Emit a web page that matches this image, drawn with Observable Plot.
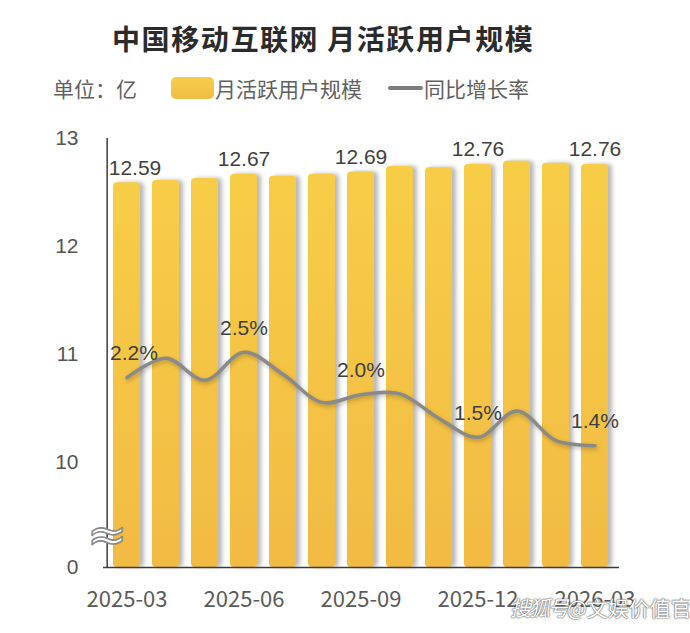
<!DOCTYPE html>
<html>
<head>
<meta charset="utf-8">
<script src="https://cdn.jsdelivr.net/npm/d3@7"></script>
<script src="https://cdn.jsdelivr.net/npm/@observablehq/plot@0.6"></script>
<style>
  body { margin: 0; background: #fff; }
  #wrap { position: relative; width: 690px; height: 633px; overflow: hidden; font-family: "Noto Sans CJK SC", sans-serif; }
  .abs { position: absolute; white-space: nowrap; }
  #title { left: 112px; top: 22px; font-size: 28px; line-height: 32px; font-weight: bold; color: #2b2b2b; letter-spacing: 1.6px; }
  .leg { top: 73px; font-size: 21px; line-height: 30px; color: #5f5f5f; }
  #swatchBar { left: 171px; top: 77px; width: 43px; height: 22px; border-radius: 5px; background: linear-gradient(#f7cf4a, #f1bb44); }
  #swatchLine { left: 388px; top: 86px; width: 35px; height: 4px; background: #7d7d7d; border-radius: 2px; }
  #chart { left: 0; top: 110px; }
  #wm { left: 510px; top: 592px; font-size: 21px; color: #fff; text-shadow: 0 0 2px #555, 0 0 1px #333; }
  #wm i { font-style: italic; letter-spacing: -2px; }
</style>
</head>
<body>
<div id="wrap">
  <div id="title" class="abs">中国移动互联网 月活跃用户规模</div>
  <div class="abs leg" style="left:53px">单位：亿</div>
  <div id="swatchBar" class="abs"></div>
  <div class="abs leg" style="left:215px">月活跃用户规模</div>
  <div id="swatchLine" class="abs"></div>
  <div class="abs leg" style="left:424px">同比增长率</div>
  <div id="chart" class="abs"></div>
  <div id="wm" class="abs"><i>搜狐号</i>@文娱价值官</div>
</div>
<script>
// ---- data ----
const months = ["2025-03","2025-04","2025-05","2025-06","2025-07","2025-08","2025-09","2025-10","2025-11","2025-12","2026-01","2026-02","2026-03"];
const mau = [12.59, 12.61, 12.63, 12.67, 12.65, 12.67, 12.69, 12.74, 12.73, 12.76, 12.79, 12.77, 12.76];
const yoy = [2.2, 2.43, 2.17, 2.5, 2.24, 1.91, 2.0, 2.01, 1.72, 1.5, 1.81, 1.46, 1.4];
const tickMonths = ["2025-03","2025-06","2025-09","2025-12","2026-03"];
const yTicks = [0, 10, 11, 12, 13];

// ---- build ----
const rows = months.map((m, i) => ({month: m, mau: mau[i], yoy: yoy[i]}));
const labeled = rows.filter(d => tickMonths.includes(d.month));
const firstLab = labeled.slice(0, 1);
const restLab = labeled.slice(1);
// growth rate drawn on the (hidden) secondary scale mapped into the y scale
const rateToY = r => 10.234 + (r - 1.5) * 0.787;

const defs = () => {
  const g = d3.create("svg:defs");
  const lg = g.append("linearGradient").attr("id", "barGrad").attr("x1", 0).attr("y1", 0).attr("x2", 0).attr("y2", 1);
  lg.append("stop").attr("offset", "0%").attr("stop-color", "#f7cd47");
  lg.append("stop").attr("offset", "100%").attr("stop-color", "#f2bb44");
  return g.node();
};

const W = 690, H = 523, ML = 103, MR = 71;
const step = (W - ML - MR) / months.length;

const chart = Plot.plot({
  width: W, height: H,
  marginLeft: ML, marginRight: MR, marginTop: 28, marginBottom: 66,
  style: {fontFamily: "'Liberation Sans', Arial, sans-serif", background: "transparent", overflow: "visible"},
  x: {type: "band", domain: months, paddingInner: 0.3, paddingOuter: 0.15, label: null},
  y: {type: "linear", domain: [0, 10, 13], range: [457, 352, 28], label: null},
  marks: [
    defs,
    Plot.barY(rows, {x: "month", y: "mau", fill: "url(#barGrad)", rx: 4}),
    Plot.ruleY([0], {stroke: "#3c3c3c", strokeWidth: 1.5}),
    Plot.ruleX([months[0]], {y1: 0, y2: 13, dx: -step / 2, stroke: "#3c3c3c", strokeWidth: 1.5}),
    Plot.text(["≈"], {x: () => months[0], y: () => 3.0, dx: -step / 2, fontSize: 48, fill: "#ffffff", stroke: "#8a8a8a", strokeWidth: 1.6, fontFamily: "DejaVu Sans"}),
    Plot.axisY({ticks: yTicks, tickSize: 0, tickPadding: 25, fontSize: 21, fill: "#555555", label: null}),
    Plot.axisX({ticks: tickMonths, tickSize: 0, tickPadding: 24, fontSize: 22, fill: "#5a5a5a", label: null}),
    Plot.text(restLab, {x: "month", y: "mau", text: d => d.mau.toFixed(2), dy: -15, fontSize: 21, fill: "#3f3f3f"}),
    Plot.text(firstLab, {x: "month", y: "mau", text: d => d.mau.toFixed(2), dy: -15, dx: 8, fontSize: 21, fill: "#3f3f3f"}),
    Plot.line(rows, {x: "month", y: d => rateToY(d.yoy), curve: "catmull-rom", stroke: "#8a8a8a", strokeWidth: 3.5}),
    Plot.text(restLab, {x: "month", y: d => rateToY(d.yoy), text: d => d.yoy.toFixed(1) + "%", dy: -24, fontSize: 21, fill: "#3f3f3f"}),
    Plot.text(firstLab, {x: "month", y: d => rateToY(d.yoy), text: d => d.yoy.toFixed(1) + "%", dy: -24, dx: 7, fontSize: 21, fill: "#3f3f3f"})
  ]
});

const svg = d3.select(chart);
svg.selectAll('g[aria-label="bar"]').style("filter", "drop-shadow(4px 0px 2px rgba(0,0,0,0.28))");
svg.selectAll('g[aria-label="line"]').style("filter", "drop-shadow(1px 2px 2px rgba(0,0,0,0.25))");
svg.selectAll('g[aria-label="x-axis tick label"]').attr("font-family", "'Noto Sans CJK SC', sans-serif");
svg.selectAll('g[aria-label="text"] text').filter(function(){ return this.textContent === "≈"; }).attr("paint-order", "normal");
document.getElementById("chart").appendChild(chart);
</script>
</body>
</html>
